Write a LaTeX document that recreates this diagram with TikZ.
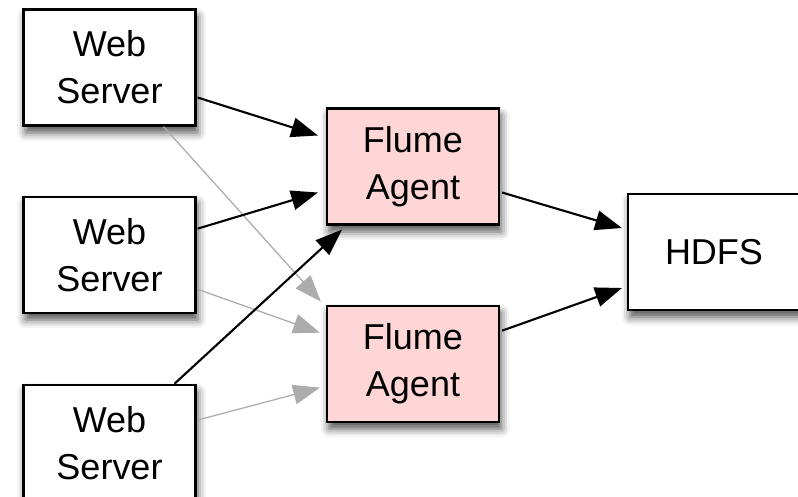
\documentclass[tikz,border=0pt]{standalone}
\usepackage{fontspec}
\setmainfont{Liberation Sans}
\usepackage{tikz}
\usetikzlibrary{positioning, calc, arrows.meta, shadows.blur}

\definecolor{agentpink}{RGB}{255,214,214}
\definecolor{lightarrow}{RGB}{172,172,172}

\tikzset{
  box/.style={draw, rectangle, line width=1.5pt, minimum width=4.3cm, minimum height=2.9cm,
    align=center, inner sep=0pt, font=\fontsize{25.6}{33.4}\selectfont,
    blur shadow={shadow xshift=1.5pt, shadow yshift=-5pt, shadow blur radius=6pt, shadow opacity=70}},
  server/.style={box, fill=white},
  agent/.style={box, fill=agentpink},
  store/.style={box, fill=white},
  main/.style={-{Triangle[length=19pt, width=14pt]}, line width=1.5pt, black},
  backup/.style={-{Triangle[length=19pt, width=14pt]}, line width=0.9pt, lightarrow}
}

\begin{document}
\begin{tikzpicture}[x=0.025cm, y=-0.025cm]
        \useasboundingbox (0,0) rectangle (798,496);

        % Nodes
        % Web servers
        \node (ws1) [server] at (109.5,67.5) {Web\\Server};
        \node (ws2) [server, below=1.725cm of ws1] {Web\\Server};
        \node (ws3) [server, below=1.75cm of ws2] {Web\\Server};

        % Agents
        \node (fa1) [agent] at (413,166.5) {Flume\\Agent};
        \node (fa2) [agent, below=1.975cm of fa1] {Flume\\Agent};

        % Storage
        \node (hdfs) [store] at (714,252) {HDFS};

        % Arrows
        \draw[backup] ($(ws1.south)+(54,0)$) -- ($(fa2.north west)+(-5,-3)$);
        \draw[backup] ($(ws2.east)+(2,35)$) -- ($(fa2.west)+(-6,-31)$);
        \draw[backup] ($(ws3.east)+(2,-23)$) -- ($(fa2.west)+(-6,24)$);

        \draw[main] ($(ws1.east)+(1,30)$) -- ($(fa1.west)+(-8,-31)$);
        \draw[main] ($(ws2.east)+(1,-26)$) -- ($(fa1.west)+(-8,26)$);
        \draw[main] ($(ws3.north)+(65,0)$) -- ($(fa1.south)+(-71,4)$);

        \draw[main] ($(fa1.east)+(2,26)$) -- ($(hdfs.west)+(-5,-24)$);
        \draw[main] ($(fa2.east)+(2,-33)$) -- ($(hdfs.west)+(-5,36)$);
\end{tikzpicture}
\end{document}
